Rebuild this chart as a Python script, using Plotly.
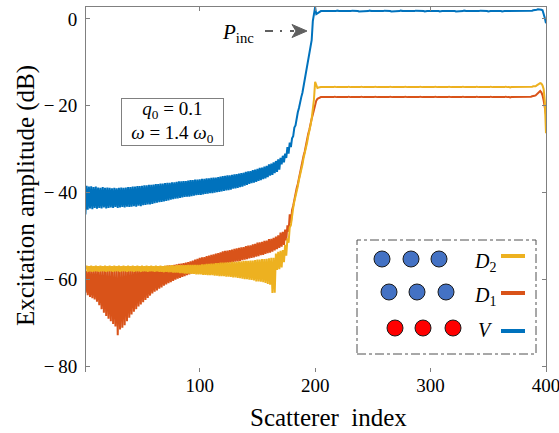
import plotly.graph_objects as go

# ---------------- data ----------------
index = list(range(1, 401))

V = [
    -45.0, -38.4, -43.9, -38.6, -43.6, -38.5, -43.8, -38.7, -43.5, -38.6,
    -43.7, -38.8, -43.5, -38.9, -43.6, -38.7, -43.4, -38.9, -43.6, -38.8,
    -43.5, -38.9, -43.4, -39.0, -43.5, -38.9, -43.3, -39.0, -43.5, -38.9,
    -43.4, -38.8, -43.3, -38.9, -43.4, -38.8, -43.2, -38.7, -43.3, -38.7,
    -43.2, -38.6, -43.1, -38.6, -43.2, -38.5, -43.0, -38.5, -43.1, -38.4,
    -42.9, -38.3, -42.8, -38.3, -42.7, -38.2, -42.7, -38.2, -42.6, -38.1,
    -42.4, -38.0, -42.3, -38.0, -42.2, -37.9, -42.1, -37.9, -42.0, -37.8,
    -41.9, -37.7, -41.8, -37.7, -41.6, -37.6, -41.5, -37.6, -41.4, -37.5,
    -41.3, -37.4, -41.2, -37.4, -41.1, -37.3, -41.0, -37.3, -40.9, -37.2,
    -40.9, -37.1, -40.8, -37.1, -40.7, -37.0, -40.6, -37.0, -40.5, -36.9,
    -40.5, -36.8, -40.4, -36.8, -40.3, -36.7, -40.2, -36.7, -40.1, -36.6,
    -40.1, -36.5, -40.0, -36.5, -39.9, -36.4, -39.8, -36.3, -39.7, -36.2,
    -39.6, -36.1, -39.5, -36.0, -39.4, -36.0, -39.3, -35.9, -39.1, -35.8,
    -39.0, -35.7, -38.9, -35.6, -38.7, -35.5, -38.6, -35.4, -38.4, -35.2,
    -38.2, -35.1, -38.0, -35.0, -37.8, -34.8, -37.7, -34.7, -37.5, -34.5,
    -37.3, -34.3, -37.1, -34.2, -36.9, -34.0, -36.7, -33.8, -36.4, -33.5,
    -36.1, -33.3, -35.9, -33.0, -35.5, -32.7, -35.2, -32.3, -34.7, -32.0,
    -33.5, -31.5, -33.0, -31.0, -32.0, -29.5, -31.0, -28.5, -29.5, -27.5,
    -27.0, -25.0, -24.5, -22.5, -21.5, -20.5, -19.0, -18.0, -17.0, -15.5,
    -14.0, -12.5, -11.0, -10.0, -8.8, -7.0, -4.9, -0.5, 1.0, 2.7,
    1.1, 1.3, 1.6, 1.7, 1.8, 1.8, 1.8, 1.8, 1.8, 1.8,
    1.8, 1.8, 1.8, 1.7, 1.7, 1.8, 1.8, 1.8, 1.9, 1.8,
    1.8, 1.8, 1.8, 1.8, 1.8, 1.7, 1.8, 1.8, 1.8, 1.8,
    1.8, 1.9, 1.9, 1.8, 1.8, 1.8, 1.8, 1.7, 1.7, 1.8,
    1.8, 1.8, 1.8, 1.8, 1.8, 1.8, 1.9, 1.8, 1.8, 1.8,
    1.8, 1.8, 1.7, 1.8, 1.8, 1.8, 1.8, 1.8, 1.8, 1.9,
    1.9, 1.8, 1.8, 1.8, 1.8, 1.7, 1.7, 1.8, 1.8, 1.8,
    1.8, 1.8, 1.8, 1.9, 1.8, 1.8, 1.8, 1.8, 1.8, 1.8,
    1.7, 1.8, 1.8, 1.8, 1.8, 1.8, 1.9, 1.9, 1.8, 1.8,
    1.8, 1.8, 1.8, 1.8, 1.7, 1.8, 1.8, 1.8, 1.8, 1.8,
    1.8, 1.9, 1.8, 1.8, 1.8, 1.8, 1.8, 1.7, 1.8, 1.8,
    1.8, 1.8, 1.8, 1.8, 1.9, 1.8, 1.8, 1.8, 1.8, 1.8,
    1.8, 1.7, 1.7, 1.8, 1.8, 1.8, 1.8, 1.8, 1.9, 1.8,
    1.8, 1.8, 1.8, 1.8, 1.8, 1.8, 1.7, 1.8, 1.8, 1.8,
    1.8, 1.8, 1.9, 1.9, 1.8, 1.8, 1.8, 1.8, 1.8, 1.7,
    1.8, 1.8, 1.8, 1.8, 1.8, 1.8, 1.8, 1.9, 1.8, 1.8,
    1.8, 1.7, 1.8, 1.8, 1.8, 1.8, 1.8, 1.8, 1.8, 1.8,
    1.8, 1.8, 1.8, 1.9, 1.8, 1.8, 1.8, 1.8, 1.8, 1.8,
    1.8, 1.8, 1.8, 1.8, 1.8, 1.8, 1.9, 1.9, 2.0, 2.0,
    2.1, 2.1, 2.2, 2.2, 2.2, 2.1, 2.0, 1.2, 0.2, -1.0,
]

D1 = [
    -63.0, -58.0, -63.6, -58.0, -64.0, -58.0, -64.3, -57.9, -64.6, -57.9,
    -65.1, -57.9, -65.9, -57.9, -66.8, -57.9, -67.6, -57.8, -68.4, -57.8,
    -69.0, -57.8, -69.6, -57.8, -70.2, -57.8, -70.8, -57.8, -72.8, -57.7,
    -71.5, -57.7, -71.1, -57.7, -70.5, -57.7, -69.6, -57.6, -68.8, -57.6,
    -68.0, -57.6, -67.4, -57.5, -66.8, -57.5, -66.2, -57.5, -65.7, -57.4,
    -65.2, -57.4, -64.7, -57.3, -64.2, -57.3, -63.7, -57.2, -63.2, -57.1,
    -62.8, -57.1, -62.5, -57.0, -62.1, -57.0, -61.8, -56.9, -61.4, -56.9,
    -61.1, -56.8, -60.8, -56.7, -60.6, -56.7, -60.3, -56.6, -60.0, -56.5,
    -59.8, -56.4, -59.6, -56.3, -59.4, -56.2, -59.2, -56.1, -59.0, -56.0,
    -58.8, -55.8, -58.6, -55.6, -58.4, -55.4, -58.2, -55.2, -58.0, -55.0,
    -57.9, -54.9, -57.8, -54.8, -57.6, -54.6, -57.5, -54.5, -57.3, -54.3,
    -57.1, -54.2, -57.0, -54.0, -56.8, -53.9, -56.7, -53.7, -56.5, -53.5,
    -56.4, -53.4, -56.3, -53.3, -56.2, -53.2, -56.1, -53.1, -56.0, -52.9,
    -55.9, -52.8, -55.8, -52.7, -55.7, -52.6, -55.5, -52.5, -55.4, -52.3,
    -55.3, -52.2, -55.1, -52.1, -55.0, -51.9, -54.9, -51.8, -54.7, -51.5,
    -54.6, -51.4, -54.4, -51.3, -54.3, -51.1, -54.1, -51.0, -53.9, -50.7,
    -53.8, -50.6, -53.6, -50.4, -53.3, -50.1, -53.0, -49.8, -52.7, -49.2,
    -52.4, -49.0, -52.0, -48.5, -51.0, -47.5, -49.0, -45.0, -47.0, -44.0,
    -43.0, -41.5, -40.5, -39.0, -38.0, -36.5, -35.5, -34.0, -33.0, -31.5,
    -30.5, -29.0, -28.0, -26.5, -25.5, -24.0, -23.0, -22.0, -21.0, -19.5,
    -18.8, -18.4, -18.2, -18.1, -18.0, -18.0, -18.0, -18.0, -18.0, -18.0,
    -18.0, -18.0, -18.1, -18.0, -18.0, -18.0, -17.9, -18.0, -18.0, -18.0,
    -18.0, -18.0, -18.0, -18.0, -18.1, -18.0, -18.0, -18.0, -17.9, -18.0,
    -18.0, -18.0, -18.0, -18.1, -18.0, -18.0, -18.0, -18.0, -18.0, -17.9,
    -18.0, -18.0, -18.0, -18.0, -18.0, -18.1, -18.0, -18.0, -18.0, -18.0,
    -18.0, -17.9, -18.0, -18.0, -18.0, -18.0, -18.0, -18.1, -18.0, -18.0,
    -18.0, -18.0, -18.0, -18.0, -17.9, -18.0, -18.0, -18.0, -18.0, -18.1,
    -18.0, -18.0, -18.1, -18.0, -18.0, -18.0, -18.0, -17.9, -18.0, -18.0,
    -18.0, -18.0, -18.0, -18.0, -18.0, -18.1, -18.0, -18.0, -18.0, -18.0,
    -17.9, -18.0, -18.0, -18.0, -18.0, -18.0, -18.0, -18.1, -18.0, -18.0,
    -18.0, -18.0, -18.0, -17.9, -18.0, -18.0, -18.0, -18.0, -18.0, -18.1,
    -18.0, -18.0, -18.0, -18.0, -18.0, -17.9, -18.0, -18.0, -18.0, -18.0,
    -18.1, -18.0, -18.0, -18.0, -18.0, -18.0, -18.0, -17.9, -18.0, -18.0,
    -18.0, -18.0, -18.1, -18.0, -18.0, -18.0, -18.0, -18.0, -18.0, -17.9,
    -18.0, -18.0, -18.0, -18.0, -18.1, -18.0, -18.0, -18.0, -18.0, -18.0,
    -18.0, -17.9, -18.0, -18.0, -18.0, -18.0, -18.1, -18.0, -18.0, -18.0,
    -18.0, -18.0, -18.0, -18.0, -17.9, -18.0, -18.0, -18.0, -18.1, -18.0,
    -18.0, -18.0, -18.0, -18.0, -18.0, -18.0, -18.0, -18.0, -18.0, -18.0,
    -18.0, -18.0, -18.0, -18.0, -18.0, -17.9, -17.9, -17.8, -17.8, -17.7,
    -17.6, -17.4, -17.1, -16.8, -16.6, -16.9, -17.6, -18.8, -20.5, -22.0,
]

D2 = [
    -57.6, -56.8, -58.2, -56.9, -58.1, -56.8, -58.2, -56.9, -58.1, -56.8,
    -58.1, -56.9, -58.2, -56.8, -58.1, -56.9, -58.1, -56.8, -58.2, -56.9,
    -58.1, -56.8, -58.1, -56.9, -58.2, -56.8, -58.1, -56.9, -58.1, -56.8,
    -58.2, -56.9, -58.1, -56.8, -58.1, -56.9, -58.2, -56.8, -58.1, -56.9,
    -58.1, -56.8, -58.2, -56.9, -58.1, -56.8, -58.1, -56.9, -58.2, -56.8,
    -58.1, -56.9, -58.1, -56.8, -58.2, -56.9, -58.1, -56.8, -58.1, -56.9,
    -58.2, -56.8, -58.1, -56.9, -58.2, -56.8, -58.2, -56.9, -58.3, -56.8,
    -58.2, -56.8, -58.3, -56.8, -58.3, -56.7, -58.4, -56.8, -58.4, -56.7,
    -58.4, -56.7, -58.5, -56.7, -58.5, -56.7, -58.6, -56.7, -58.6, -56.6,
    -58.6, -56.6, -58.7, -56.6, -58.7, -56.6, -58.8, -56.6, -58.8, -56.6,
    -58.8, -56.5, -58.9, -56.5, -58.9, -56.4, -59.0, -56.4, -59.0, -56.3,
    -59.0, -56.3, -59.1, -56.2, -59.1, -56.2, -59.2, -56.1, -59.2, -56.1,
    -59.2, -56.1, -59.3, -56.0, -59.3, -56.0, -59.4, -55.9, -59.5, -55.9,
    -59.5, -55.9, -59.6, -55.8, -59.7, -55.8, -59.8, -55.7, -59.9, -55.7,
    -59.9, -55.7, -60.0, -55.6, -60.1, -55.6, -60.2, -55.5, -60.4, -55.4,
    -60.4, -55.4, -60.5, -55.3, -60.6, -55.3, -60.8, -55.2, -61.0, -55.1,
    -61.2, -55.0, -63.1, -55.0, -63.0, -54.0, -57.8, -53.6, -57.6, -53.4,
    -57.2, -53.2, -56.0, -52.0, -54.5, -50.5, -51.5, -48.0, -47.5, -45.0,
    -43.5, -42.0, -41.0, -39.5, -38.5, -37.0, -36.0, -34.5, -33.5, -32.0,
    -31.0, -29.5, -28.5, -27.0, -26.0, -24.5, -23.0, -21.0, -18.5, -14.5,
    -15.4, -15.9, -15.8, -15.7, -15.7, -15.7, -15.7, -15.7, -15.7, -15.7,
    -15.7, -15.7, -15.8, -15.7, -15.7, -15.7, -15.6, -15.7, -15.7, -15.7,
    -15.7, -15.7, -15.7, -15.7, -15.8, -15.7, -15.7, -15.7, -15.6, -15.7,
    -15.7, -15.7, -15.7, -15.8, -15.7, -15.7, -15.7, -15.7, -15.7, -15.6,
    -15.7, -15.7, -15.7, -15.7, -15.7, -15.8, -15.7, -15.7, -15.7, -15.7,
    -15.7, -15.6, -15.7, -15.7, -15.7, -15.7, -15.7, -15.8, -15.7, -15.7,
    -15.7, -15.7, -15.7, -15.7, -15.6, -15.7, -15.7, -15.7, -15.7, -15.8,
    -15.7, -15.7, -15.8, -15.7, -15.7, -15.7, -15.7, -15.6, -15.7, -15.7,
    -15.7, -15.7, -15.7, -15.7, -15.7, -15.8, -15.7, -15.7, -15.7, -15.7,
    -15.6, -15.7, -15.7, -15.7, -15.7, -15.7, -15.7, -15.8, -15.7, -15.7,
    -15.7, -15.7, -15.7, -15.6, -15.7, -15.7, -15.7, -15.7, -15.7, -15.8,
    -15.7, -15.7, -15.7, -15.7, -15.7, -15.6, -15.7, -15.7, -15.7, -15.7,
    -15.8, -15.7, -15.7, -15.7, -15.7, -15.7, -15.7, -15.6, -15.7, -15.7,
    -15.7, -15.7, -15.8, -15.7, -15.7, -15.7, -15.7, -15.7, -15.7, -15.6,
    -15.7, -15.7, -15.7, -15.7, -15.8, -15.7, -15.7, -15.7, -15.7, -15.7,
    -15.7, -15.6, -15.7, -15.7, -15.7, -15.7, -15.8, -15.7, -15.7, -15.7,
    -15.7, -15.7, -15.7, -15.7, -15.6, -15.7, -15.7, -15.7, -15.8, -15.7,
    -15.7, -15.7, -15.7, -15.7, -15.7, -15.7, -15.7, -15.7, -15.7, -15.7,
    -15.7, -15.7, -15.7, -15.7, -15.7, -15.6, -15.6, -15.6, -15.5, -15.5,
    -15.5, -15.3, -15.1, -14.9, -14.8, -14.9, -15.3, -16.2, -19.0, -26.3,
]

assert len(V) == 400 and len(D1) == 400 and len(D2) == 400, (len(V), len(D1), len(D2))

x_tick_vals = [100, 200, 300, 400]
x_tick_text = ["100", "200", "300", "400"]
y_tick_vals = [-80, -60, -40, -20, 0]
y_tick_text = ["\u2212\u200980", "\u2212\u200960", "\u2212\u200940", "\u2212\u200920", "0"]

series_names = ["V", "D1", "D2"]
series_colors = {"V": "#0072BD", "D1": "#D95319", "D2": "#EDB120"}

# ---------------- figure ----------------
W, H = 559, 433
ML, MR, MT, MB = 86, 13, 7, 61
PW, PH = W - ML - MR, H - MT - MB
FONT = "Liberation Serif"
GREY = "#808080"


def px(x):
    return (x - ML) / PW


def py(y):
    return (H - MB - y) / PH


fig = go.Figure()
data = {"V": V, "D1": D1, "D2": D2}
for name in series_names:
    fig.add_trace(go.Scatter(
        x=index, y=data[name], mode="lines", name=name,
        line=dict(color=series_colors[name], width=2),
        hoverinfo="skip",
    ))

fig.update_layout(
    width=W, height=H,
    margin=dict(l=ML, r=MR, t=MT, b=MB, autoexpand=False),
    paper_bgcolor="white", plot_bgcolor="white",
    showlegend=False,
    font=dict(family=FONT, color="black", size=19),
    xaxis=dict(
        range=[1.5, 400.01], tickmode="array", tickvals=x_tick_vals, ticktext=x_tick_text,
        showline=False, ticks="inside", ticklen=4, tickcolor=GREY, tickwidth=1,
        showgrid=False, zeroline=False, tickfont=dict(family=FONT, size=19, color="black"),
        automargin=False, ticklabeloverflow="allow",
    ),
    xaxis2=dict(
        overlaying="x", side="top", anchor="y", range=[1.5, 400.01],
        tickmode="array", tickvals=[100, 200, 300], showticklabels=False,
        showline=True, linecolor=GREY, linewidth=1, ticks="inside", ticklen=4,
        tickcolor=GREY, showgrid=False, zeroline=False, automargin=False,
    ),
    yaxis=dict(
        range=[-81.27, 2.74], tickmode="array", tickvals=y_tick_vals, ticktext=y_tick_text,
        showline=True, linecolor=GREY, linewidth=1, mirror="ticks",
        ticks="inside", ticklen=4, tickcolor=GREY, showgrid=False, zeroline=False,
        tickfont=dict(family=FONT, size=19, color="black"), automargin=False,
        ticklabelstandoff=4,
    ),
)
# invisible trace so xaxis2 is drawn
fig.add_trace(go.Scatter(x=[None], y=[None], xaxis="x2", yaxis="y", showlegend=False,
                         hoverinfo="skip"))

shapes = []
annotations = []

# axis titles
annotations.append(dict(text="Scatterer\u2002index", xref="paper", yref="paper",
                        x=px(328), y=py(417), xanchor="center", yanchor="middle",
                        showarrow=False, font=dict(family=FONT, size=25, color="black")))
annotations.append(dict(text="Excitation amplitude (dB)", xref="paper", yref="paper",
                        x=px(26), y=py(196), xanchor="center", yanchor="middle",
                        textangle=-90, showarrow=False,
                        font=dict(family=FONT, size=25, color="black")))

# parameter box
annotations.append(dict(
    text="<i>q</i><sub>0</sub> = 0.1<br><i>\u03c9</i> = 1.4 <i>\u03c9</i><sub>0</sub>",
    xref="paper", yref="paper", x=px(172.5), y=py(122), xanchor="center", yanchor="middle",
    showarrow=False, width=101, height=46, borderpad=0, bordercolor=GREY, borderwidth=1,
    bgcolor="white", align="center", font=dict(family=FONT, size=19, color="black")))

# P_inc label with dash-dot arrow
annotations.append(dict(text="<i>P</i><sub>inc</sub>", xref="paper", yref="paper",
                        x=px(238), y=py(33), xanchor="center", yanchor="middle",
                        showarrow=False, font=dict(family=FONT, size=21, color="black")))
shapes.append(dict(type="line", xref="paper", yref="paper", x0=px(265), x1=px(294),
                   y0=py(31), y1=py(31), line=dict(color="#606060", width=2,
                                                     dash="8px,7px,2px,8px")))
shapes.append(dict(type="path", xref="paper", yref="paper", xsizemode="pixel",
                   ysizemode="pixel", xanchor=px(307), yanchor=py(31),
                   path="M -15 -6.5 L 0 0 L -15 6.5 L -11 0 Z",
                   fillcolor="#606060", line=dict(color="#606060", width=1)))

# custom legend box
shapes.append(dict(type="rect", xref="paper", yref="paper", x0=px(357), x1=px(536),
                   y0=py(354), y1=py(240), fillcolor="white",
                   line=dict(color="#505050", width=1, dash="dashdot")))
circle_rows = [
    ([382, 411, 439], 259, "#4472C4"),
    ([389, 417, 446], 292, "#4472C4"),
    ([395, 423, 453], 328, "#FF0000"),
]
for xs, yc, col in circle_rows:
    for xc in xs:
        shapes.append(dict(type="circle", xref="paper", yref="paper",
                           xsizemode="pixel", ysizemode="pixel",
                           xanchor=px(xc), yanchor=py(yc), x0=-8, x1=8, y0=-8, y1=8,
                           fillcolor=col, line=dict(color="#1a1a1a", width=1)))
legend_rows = [
    ("<i>D</i><sub>2</sub>", 262, 256, "D2"),
    ("<i>D</i><sub>1</sub>", 296, 293, "D1"),
    ("<i>V</i>", 330, 331, "V"),
]
for label, ytxt, yline, key in legend_rows:
    annotations.append(dict(text=label, xref="paper", yref="paper", x=px(485), y=py(ytxt),
                            xanchor="center", yanchor="middle", showarrow=False,
                            font=dict(family=FONT, size=20, color="black")))
    shapes.append(dict(type="line", xref="paper", yref="paper", x0=px(501), x1=px(525),
                       y0=py(yline), y1=py(yline),
                       line=dict(color=series_colors[key], width=4)))

fig.update_layout(shapes=shapes, annotations=annotations)
fig.write_html(
    "out.html",
    config={"displayModeBar": False, "staticPlot": True},
    post_script="document.body.style.margin='0';document.body.style.overflow='hidden';",
)
